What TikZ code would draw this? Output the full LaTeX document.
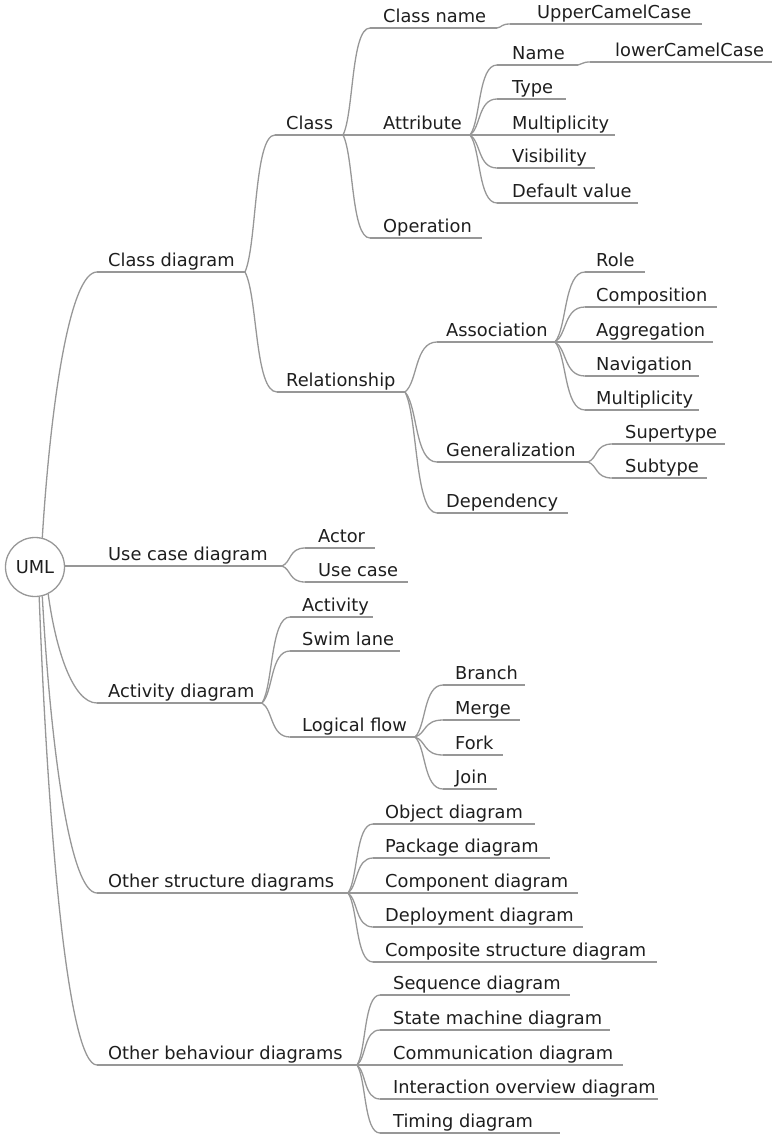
\documentclass[tikz,border=0pt]{standalone}
\usepackage{fontspec}
\setmainfont{DejaVu Sans}
\usetikzlibrary{calc}
\definecolor{linecol}{HTML}{979797}
\definecolor{txtcol}{HTML}{1E1E1E}
% one mind-map entry: name, underline start x, text x, underline end x, underline y, label
\newcommand{\mmnode}[6]{%
  \coordinate (#1-s) at (#2,#5);
  \coordinate (#1-e) at (#4,#5);
  \draw[uline] (#1-s) -- (#1-e);
  \node[lbl] (#1) at (#3,#5-6) {#6};
}
% branch curve from the end of a parent's underline to the start of a child's
\newcommand{\mmlink}[2]{%
  \draw[conn] let \p1=(#1-e), \p2=(#2-s) in
    (\p1) .. controls ({\x1+0.4*(\x2-\x1)},{\y1+0.2*(\y2-\y1)})
             and ({\x1+0.3*(\x2-\x1)},\y2) .. (\p2);
}
% curve from the central circle to a first-level entry
\newcommand{\mmroot}[2]{%
  \draw[conn] let \p1=(uml.#1), \p2=(#2-s) in
    (\p1) .. controls ({\x1+0.15*(\x2-\x1)},{\y1+0.5*(\y2-\y1)})
             and ({\x1+0.5*(\x2-\x1)},\y2) .. (\p2);
}
\begin{document}
\begin{tikzpicture}[x=1pt,y=-1pt,
  uline/.style={draw=linecol,line width=1.3pt},
  conn/.style={draw=linecol,line width=1.3pt},
  lbl/.style={anchor=base west,inner sep=0pt,text=txtcol,font=\fontsize{17.8}{20}\selectfont},
  rootnode/.style={circle,draw=linecol,line width=1.3pt,minimum size=59pt,inner sep=0pt,
    text=txtcol,font=\fontsize{17.8}{20}\selectfont}]
\useasboundingbox (0,0) rectangle (772,1135);

\node[rootnode] (uml) at (35,567) {UML};

% first level
\mmnode{cd}{97}{108}{245}{272}{Class diagram}
\mmnode{ucd}{65}{108}{282}{566}{Use case diagram}
\mmnode{ad}{97}{108}{262}{703}{Activity diagram}
\mmnode{osd}{97}{108}{348}{893}{Other structure diagrams}
\mmnode{obd}{97}{108}{357}{1065}{Other behaviour diagrams}

% class diagram
\mmnode{cls}{275}{286}{343}{135}{Class}
\mmnode{rel}{277}{286}{405}{392}{Relationship}
\mmnode{cname}{370}{383}{497}{28}{Class name}
\mmnode{ucc}{510}{537}{702}{24}{UpperCamelCase}
\mmnode{attr}{370}{383}{470}{135}{Attribute}
\mmnode{oper}{370}{383}{482}{238}{Operation}
\mmnode{aname}{497}{512}{578}{65}{Name}
\mmnode{lcc}{590}{615}{772}{62}{lowerCamelCase}
\mmnode{atype}{497}{512}{566}{99}{Type}
\mmnode{amult}{497}{512}{615}{135}{Multiplicity}
\mmnode{avis}{497}{512}{595}{168}{Visibility}
\mmnode{adef}{497}{512}{638}{203}{Default value}
\mmnode{assoc}{437}{446}{555}{342}{Association}
\mmnode{gen}{437}{446}{588}{462}{Generalization}
\mmnode{dep}{437}{446}{568}{513}{Dependency}
\mmnode{role}{585}{596}{645}{272}{Role}
\mmnode{comp}{585}{596}{717}{307}{Composition}
\mmnode{aggr}{585}{596}{713}{342}{Aggregation}
\mmnode{nav}{585}{596}{699}{376}{Navigation}
\mmnode{rmult}{585}{596}{699}{410}{Multiplicity}
\mmnode{sup}{612}{625}{725}{444}{Supertype}
\mmnode{sub}{612}{625}{707}{478}{Subtype}

% use case diagram
\mmnode{actor}{305}{318}{375}{548}{Actor}
\mmnode{ucase}{305}{318}{408}{582}{Use case}

% activity diagram
\mmnode{act}{290}{302}{373}{617}{Activity}
\mmnode{swim}{290}{302}{400}{651}{Swim lane}
\mmnode{lflow}{290}{302}{415}{737}{Logical flow}
\mmnode{branch}{443}{455}{525}{685}{Branch}
\mmnode{merge}{443}{455}{520}{720}{Merge}
\mmnode{fork}{443}{455}{503}{755}{Fork}
\mmnode{join}{443}{455}{497}{789}{Join}

% other structure diagrams
\mmnode{objd}{373}{385}{535}{824}{Object diagram}
\mmnode{pkgd}{373}{385}{550}{858}{Package diagram}
\mmnode{cmpd}{373}{385}{578}{893}{Component diagram}
\mmnode{depd}{373}{385}{583}{927}{Deployment diagram}
\mmnode{csd}{373}{385}{657}{962}{Composite structure diagram}

% other behaviour diagrams
\mmnode{seqd}{380}{393}{570}{995}{Sequence diagram}
\mmnode{smd}{380}{393}{610}{1030}{State machine diagram}
\mmnode{comd}{380}{393}{623}{1065}{Communication diagram}
\mmnode{iod}{380}{393}{658}{1099}{Interaction overview diagram}
\mmnode{timd}{380}{393}{560}{1133}{Timing diagram}

% connectors from the centre
\mmroot{76}{cd}
\mmroot{3}{ucd}
\mmroot{-64}{ad}
\mmroot{-76}{osd}
\mmroot{-82}{obd}

% connectors between entries
\mmlink{cd}{cls}
\mmlink{cd}{rel}
\mmlink{cls}{cname}
\mmlink{cls}{attr}
\mmlink{cls}{oper}
\mmlink{cname}{ucc}
\mmlink{attr}{aname}
\mmlink{aname}{lcc}
\mmlink{attr}{atype}
\mmlink{attr}{amult}
\mmlink{attr}{avis}
\mmlink{attr}{adef}
\mmlink{rel}{assoc}
\mmlink{rel}{gen}
\mmlink{rel}{dep}
\mmlink{assoc}{role}
\mmlink{assoc}{comp}
\mmlink{assoc}{aggr}
\mmlink{assoc}{nav}
\mmlink{assoc}{rmult}
\mmlink{gen}{sup}
\mmlink{gen}{sub}
\mmlink{ucd}{actor}
\mmlink{ucd}{ucase}
\mmlink{ad}{act}
\mmlink{ad}{swim}
\mmlink{ad}{lflow}
\mmlink{lflow}{branch}
\mmlink{lflow}{merge}
\mmlink{lflow}{fork}
\mmlink{lflow}{join}
\mmlink{osd}{objd}
\mmlink{osd}{pkgd}
\mmlink{osd}{cmpd}
\mmlink{osd}{depd}
\mmlink{osd}{csd}
\mmlink{obd}{seqd}
\mmlink{obd}{smd}
\mmlink{obd}{comd}
\mmlink{obd}{iod}
\mmlink{obd}{timd}
\end{tikzpicture}
\end{document}
